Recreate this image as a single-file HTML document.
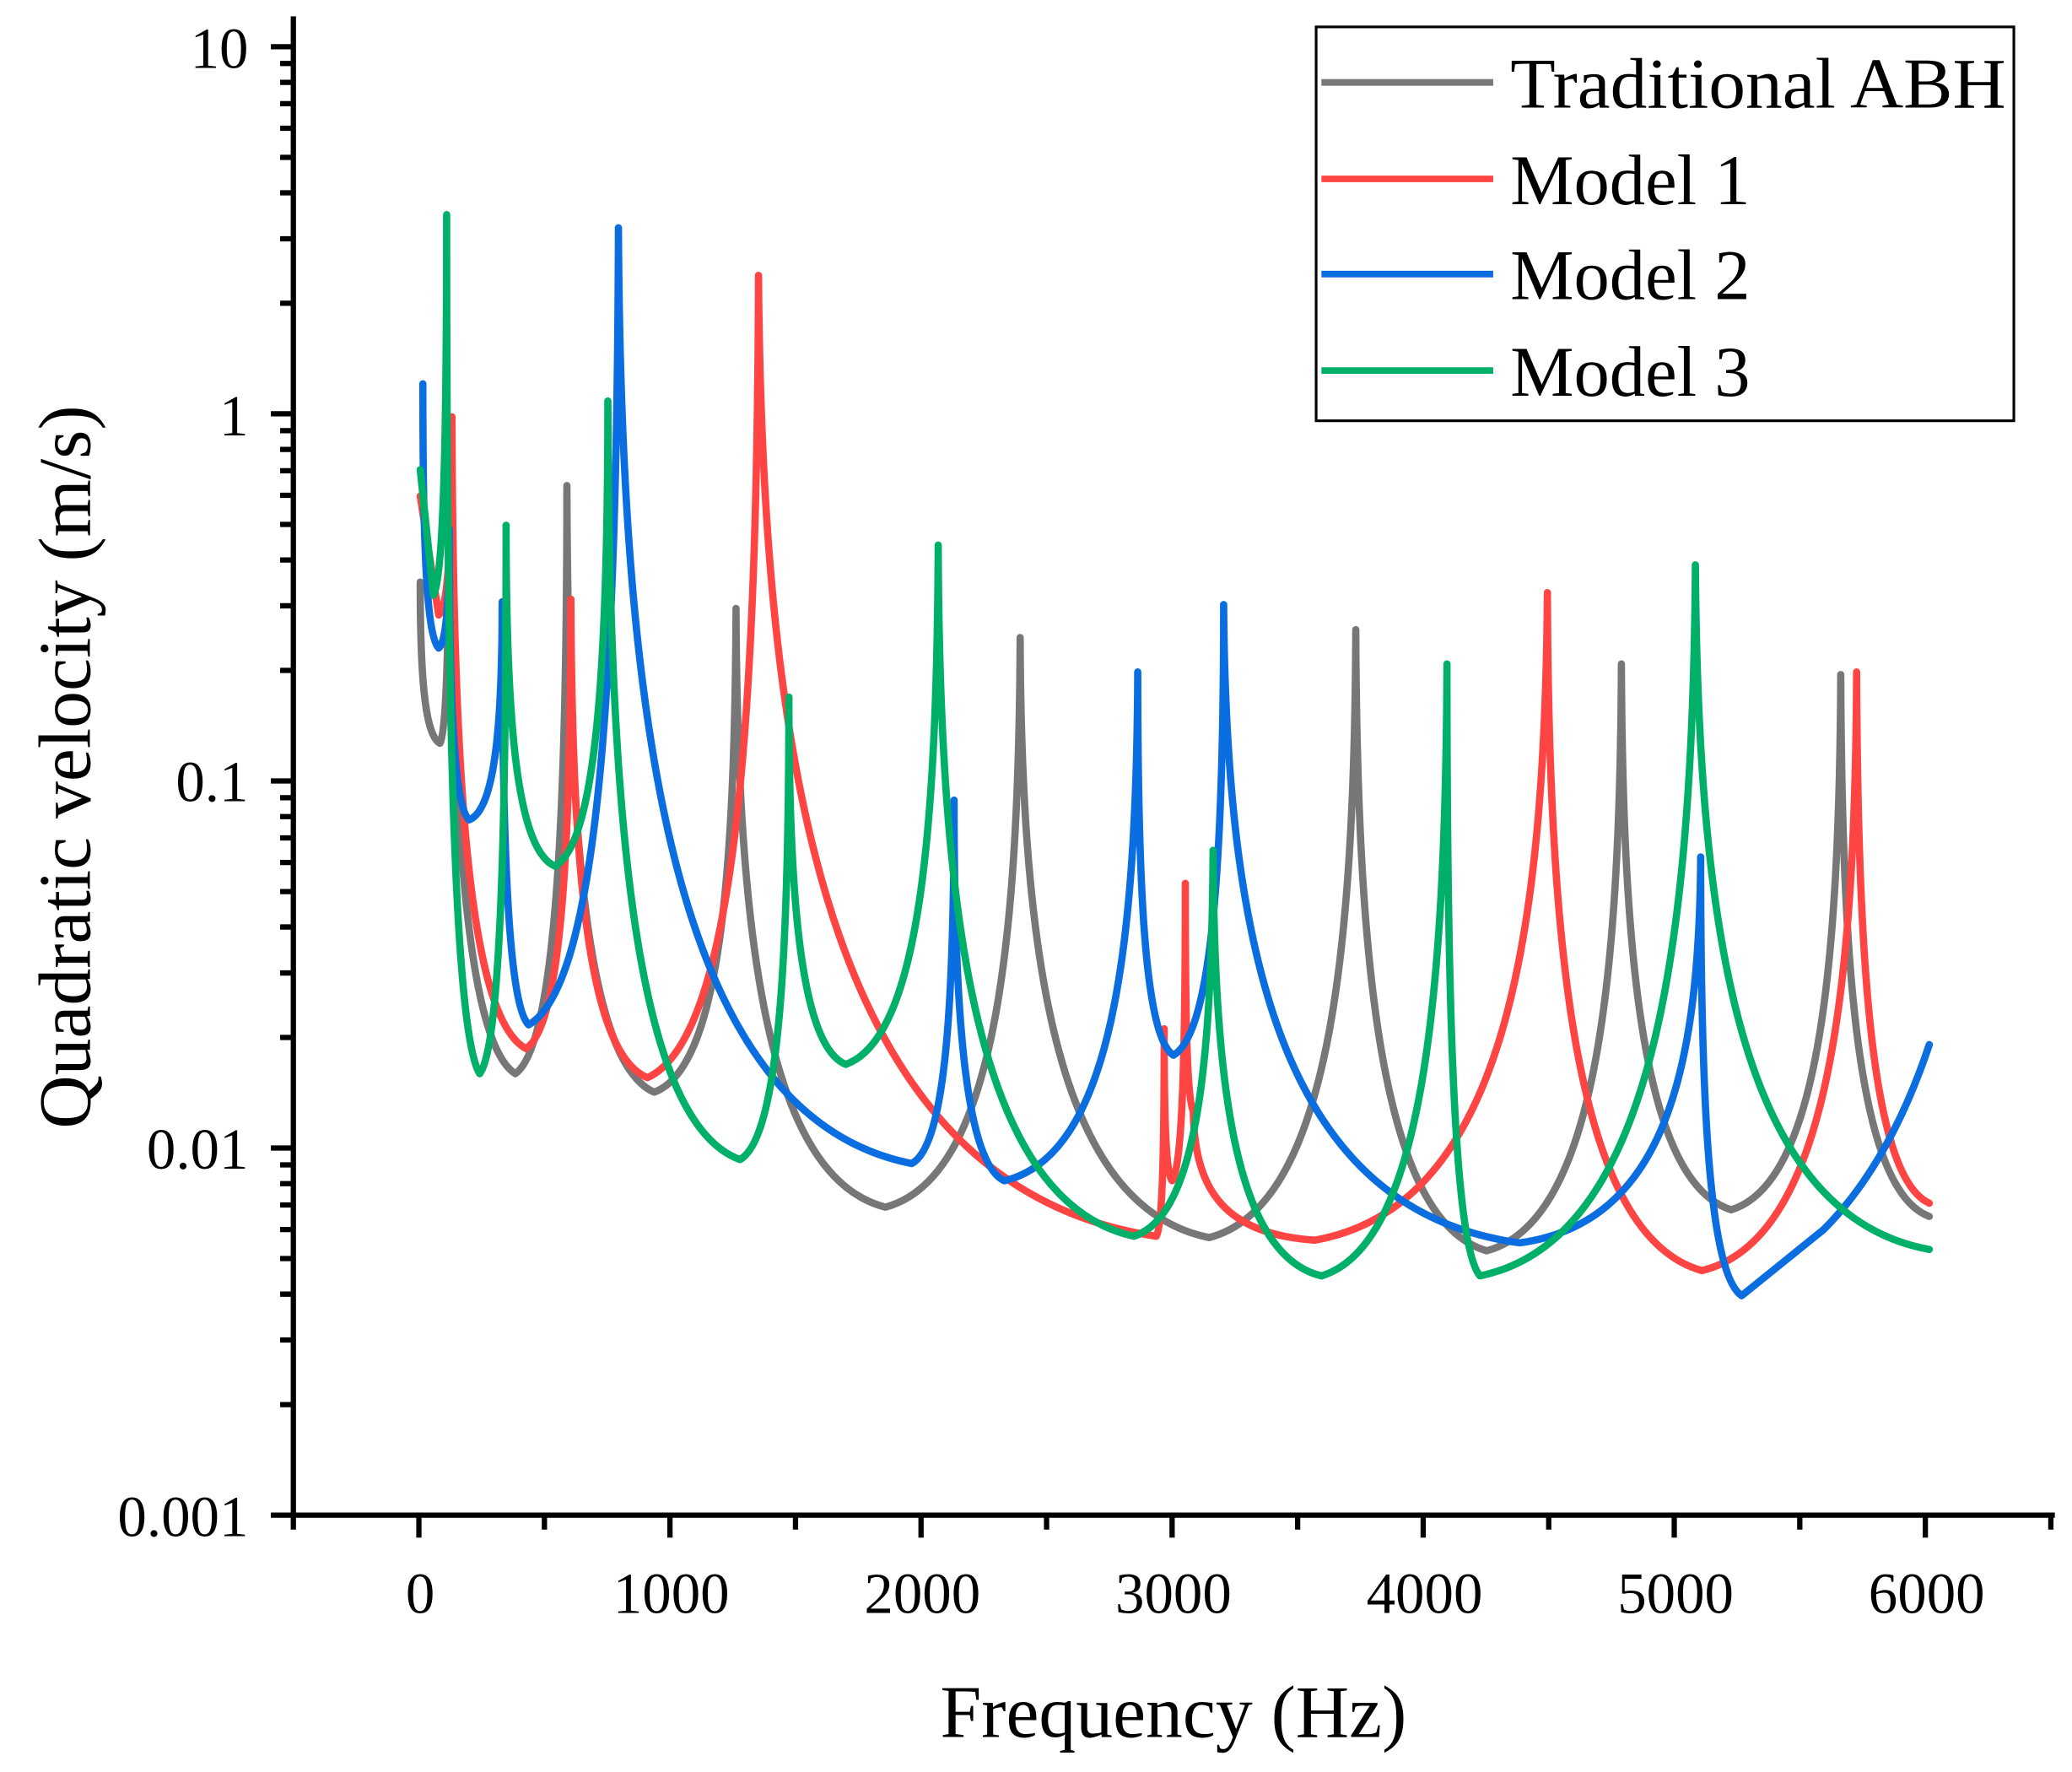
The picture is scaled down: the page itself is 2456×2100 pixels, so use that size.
<!DOCTYPE html>
<html><head><meta charset="utf-8"><style>html,body{margin:0;padding:0;background:#fff}svg{display:block}</style></head>
<body>
<svg width="2456" height="2100" viewBox="0 0 1568 1340" xmlns="http://www.w3.org/2000/svg" font-family="'Liberation Serif',serif">
<rect width="1568" height="1340" fill="#fff"/>
<g fill="none" stroke-width="5.5" stroke-linejoin="round" stroke-linecap="round">
<path stroke="#777" d="M318,440 C318,507 321,556 333,562 C339,550 340,452 340,318 C341,590 350,787 390,812 C421,790 429,612 429,367 C430,619 442,803 495,826 C545,808 556,661 557,460 C558,709 580,890 670,913 C752,891 771,719 772,482 C773,732 801,913 915,936 C1004,913 1025,729 1026,476 C1027,735 1046,923 1125,946 C1207,924 1226,746 1227,502 C1228,729 1244,894 1310,915 C1376,895 1392,733 1393,510 C1394,736 1406,900 1460,920"/>
<path stroke="#f44" d="M318,375 L332,465 C340,458 342,398 342,315 C343,578 353,769 398,793 C425,776 432,640 432,453 C433,652 444,797 490,815 C557,785 573,542 574,208 C577,608 634,899 875,935 C880,927 881,864 881,778 C881,841 882,887 887,893 C895,882 897,792 897,668 C897,763 898,831 903,840 C904,894 921,933 995,938 C1136,913 1169,718 1171,448 C1172,730 1194,935 1288,961 C1382,938 1404,757 1405,508 C1406,729 1416,890 1460,910"/>
<path stroke="#0a6ee0" d="M320,290 C320,400 322,480 332,490 C338,486 340,450 340,400 C340,521 343,609 355,620 C375,612 380,546 380,455 C380,631 384,759 400,775 C454,745 467,504 468,172 C470,561 512,845 690,880 C716,866 722,756 722,605 C722,763 730,879 760,893 C841,874 860,720 861,508 C861,668 866,784 888,798 C918,781 926,645 926,457 C928,723 971,916 1150,940 C1260,925 1286,809 1287,648 C1287,831 1293,963 1318,980 L1380,930 Q1430,880 1460,790"/>
<path stroke="#00b068" d="M318,355 L328,450 C336,436 338,320 338,162 C338,520 343,780 363,812 C379,791 383,625 383,397 C383,539 390,642 420,655 C452,637 460,497 460,303 C461,619 480,848 560,877 C590,860 597,720 597,527 C597,680 606,791 640,805 C696,785 709,628 710,412 C711,700 740,909 858,935 C906,920 917,804 918,643 C919,820 934,949 1000,965 C1076,942 1094,757 1095,502 C1095,757 1100,942 1120,965 C1250,938 1281,723 1283,427 C1285,712 1318,919 1460,945"/>
</g>
<g stroke="#000" stroke-width="4" fill="none">
<path d="M222,12 V1148 M220,1146 H1555"/>
<path d="M222,1146V1157 M317,1146V1163 M412,1146V1157 M507,1146V1163 M602,1146V1157 M697,1146V1163 M792,1146V1157 M887,1146V1163 M982,1146V1157 M1077,1146V1163 M1172,1146V1157 M1267,1146V1163 M1362,1146V1157 M1457,1146V1163 M1552,1146V1157"/>
<path d="M205,1146H222 M205,868.25H222 M205,590.5H222 M205,312.75H222 M205,35H222"/>
<path d="M212,1062.4H222 M212,1013.5H222 M212,978.8H222 M212,951.9H222 M212,929.9H222 M212,911.3H222 M212,895.2H222 M212,881H222
M212,784.6H222 M212,735.8H222 M212,701H222 M212,674.2H222 M212,652.2H222 M212,633.6H222 M212,617.5H222 M212,603.2H222
M212,506.9H222 M212,458H222 M212,423.3H222 M212,396.4H222 M212,374.4H222 M212,355.8H222 M212,339.7H222 M212,325.5H222
M212,229.1H222 M212,180.3H222 M212,145.5H222 M212,118.7H222 M212,96.7H222 M212,78.1H222 M212,62H222 M212,47.7H222"/>
</g>
<g font-size="44" text-anchor="middle" fill="#000">
<text x="318" y="1220">0</text><text x="508" y="1220">1000</text><text x="698" y="1220">2000</text>
<text x="888" y="1220">3000</text><text x="1078" y="1220">4000</text><text x="1268" y="1220">5000</text><text x="1458" y="1220">6000</text>
</g>
<g font-size="44" text-anchor="end" fill="#000">
<text x="188" y="51">10</text><text x="188" y="329">1</text><text x="188" y="606">0.1</text><text x="188" y="884">0.01</text><text x="188" y="1162">0.001</text>
</g>
<text x="888" y="1314" font-size="56" text-anchor="middle">Frequency (Hz)</text>
<text transform="translate(68,580) rotate(-90)" font-size="56" text-anchor="middle">Quadratic velocity (m/s)</text>
<rect x="996" y="20" width="528" height="298" fill="#fff" stroke="#000" stroke-width="2"/>
<g stroke-width="5">
<line x1="1000" y1="62" x2="1130" y2="62" stroke="#777"/>
<line x1="1000" y1="135" x2="1130" y2="135" stroke="#f44"/>
<line x1="1000" y1="207" x2="1130" y2="207" stroke="#0a6ee0"/>
<line x1="1000" y1="280" x2="1130" y2="280" stroke="#00b068"/>
</g>
<g font-size="54" fill="#000">
<text x="1143" y="81" textLength="375" lengthAdjust="spacingAndGlyphs">Traditional ABH</text><text x="1143" y="154">Model 1</text>
<text x="1143" y="226">Model 2</text><text x="1143" y="299">Model 3</text>
</g>
</svg>
</body></html>
